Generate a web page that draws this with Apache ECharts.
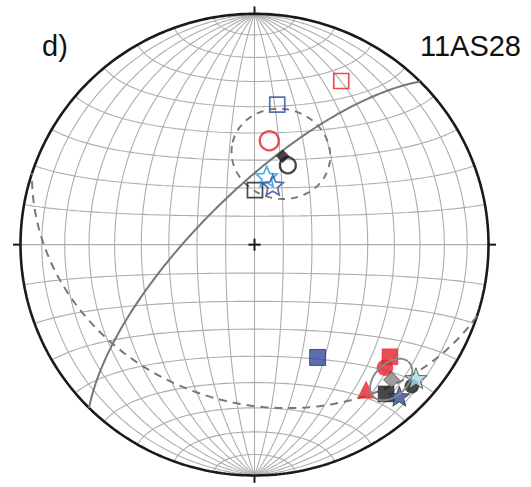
<!DOCTYPE html>
<html>
<head>
<meta charset="utf-8">
<script src="https://cdn.jsdelivr.net/npm/echarts@6/dist/echarts.min.js"></script>
<style>html,body{margin:0;padding:0;background:#fff}#chart{width:531px;height:487px}</style>
</head>
<body>
<div id="chart"></div>
<script>
// Site directions on a lower-hemisphere equal-area net (trend, plunge in degrees)
const openTrend    = [9.1, 27.6, 0.5, 8.0, 22.5, 10.0, 16.8];
const openPlunge   = [38.5, 21.1, 70.8, 52.5, 59.5, 65.5, 68.0];
const filledTrend  = [151.1, 130.0, 133.7, 142.8, 139.0, 132.4, 130.0, 136.7];
const filledPlunge = [43.5, 25.4, 23.9, 22.2, 15.4, 9.9, 10.9, 10.7];
// Mean directions
const meanTrend  = [17.5, 135.0];
const meanPlunge = [57.0, 18.3];
// Confidence cones (centre trend, plunge, half-angle)
const coneTrend  = [16.0, 135.0];
const conePlunge = [56.0, 18.3];
const coneAlpha  = [16.5, 7.0];
// Planes (dip direction, dip)
const planeDipDir = [315, 198];
const planeDip    = [71.5, 32];
// Net grid spacing (degrees)
const netStep = 10;
const panelLabel = 'd)';
const siteLabel = '11AS28';

const D2R = Math.PI / 180;
function vec(trend, plunge) {
  const t = trend * D2R, p = plunge * D2R;
  return [Math.cos(p) * Math.cos(t), Math.cos(p) * Math.sin(t), Math.sin(p)];
}
function cross(a, b) {
  return [a[1]*b[2]-a[2]*b[1], a[2]*b[0]-a[0]*b[2], a[0]*b[1]-a[1]*b[0]];
}
function norm(a) { const l = Math.hypot(a[0], a[1], a[2]); return [a[0]/l, a[1]/l, a[2]/l]; }
// Schmidt (equal-area) lower-hemisphere projection; returns [east, north] in unit-radius coords
function project(v) {
  let n = v[0], e = v[1], d = v[2];
  if (d < 0) { n = -n; e = -e; d = -d; }
  const h = Math.hypot(n, e);
  if (h < 1e-12) return [0, 0];
  const theta = Math.acos(Math.min(1, d));
  const r = Math.SQRT2 * Math.sin(theta / 2);
  return [r * e / h, r * n / h];
}
function greatCircle(dipDir, dip) {
  const s = (dipDir - 90) * D2R;
  const sv = [Math.cos(s), Math.sin(s), 0];
  const dv = vec(dipDir, dip);
  const pts = [];
  for (let a = 0; a <= 180; a += 1) {
    const c = Math.cos(a * D2R), sn = Math.sin(a * D2R);
    pts.push(project([c*sv[0]+sn*dv[0], c*sv[1]+sn*dv[1], c*sv[2]+sn*dv[2]]));
  }
  return pts;
}
function cone(trend, plunge, alpha) {
  const a = vec(trend, plunge);
  const ref = Math.abs(a[2]) < 0.9 ? [0, 0, 1] : [1, 0, 0];
  const u = norm(cross(a, ref)), w = cross(a, u);
  const ca = Math.cos(alpha * D2R), sa = Math.sin(alpha * D2R);
  const pts = [];
  for (let t = 0; t <= 360; t += 2) {
    const ct = Math.cos(t * D2R), st = Math.sin(t * D2R);
    pts.push(project([ca*a[0]+sa*(ct*u[0]+st*w[0]), ca*a[1]+sa*(ct*u[1]+st*w[1]), ca*a[2]+sa*(ct*u[2]+st*w[2])]));
  }
  return pts;
}
// Small circle about the N-S horizontal axis
function latitude(alpha) {
  const ca = Math.cos(alpha * D2R), sa = Math.sin(alpha * D2R);
  const pts = [];
  for (let t = 0; t <= 180; t += 2) {
    pts.push(project([ca, sa * Math.cos(t * D2R), sa * Math.sin(t * D2R)]));
  }
  return pts;
}
function starPath(inner) {
  let d = '';
  for (let k = 0; k < 10; k++) {
    const ang = (-90 + 36 * k) * D2R;
    const r = k % 2 === 0 ? 50 : 50 * inner;
    d += (k === 0 ? 'M' : 'L') + (50 + r * Math.cos(ang)).toFixed(2) + ',' + (50 + r * Math.sin(ang)).toFixed(2);
  }
  return 'path://' + d + 'Z';
}
const STAR_OPEN = starPath(0.46);
const STAR_FILL = starPath(0.42);

const RED = '#E8202A', BLUE = '#2F4B9C', CYAN = '#1DA0E0', INK = '#1a1a1a', GREY = '#777777';

const openStyles = [
  { symbol: 'rect', size: 15, color: BLUE, w: 1.7 },
  { symbol: 'rect', size: 15, color: RED, w: 1.7 },
  { symbol: 'rect', size: 15, color: INK, w: 1.7 },
  { symbol: 'circle', size: 19, color: RED, w: 2.3 },
  { symbol: 'circle', size: 16, color: INK, w: 2.3 },
  { symbol: STAR_OPEN, size: 21, color: CYAN, w: 1.7 },
  { symbol: STAR_OPEN, size: 21, color: BLUE, w: 1.7 }
];
const filledStyles = [
  { symbol: 'rect', size: 16, fill: BLUE, border: INK, w: 0.8 },
  { symbol: 'rect', size: 16, fill: RED, border: RED, w: 0.5 },
  { symbol: 'circle', size: 16, fill: RED, border: RED, w: 0.5 },
  { symbol: 'triangle', size: 17, fill: RED, border: RED, w: 0.5 },
  { symbol: 'rect', size: 16, fill: INK, border: INK, w: 0.5 },
  { symbol: 'circle', size: 14, fill: INK, border: INK, w: 0.5 },
  { symbol: STAR_FILL, size: 22, fill: '#A6DBEA', border: INK, w: 0.8 },
  { symbol: STAR_FILL, size: 21, fill: BLUE, border: INK, w: 0.8 }
];
const meanStyles = [
  { size: 13, fill: INK, border: INK, w: 0.5 },
  { size: 16, fill: '#858585', border: '#333', w: 0.8 }
];
const planeStyles = [
  { color: GREY, width: 2, type: 'solid' },
  { color: GREY, width: 2, type: [8, 6] }
];
const coneStyles = [
  { color: GREY, width: 1.9, type: [7, 6] },
  { color: '#888888', width: 1.9, type: 'solid' }
];

function lineSeries(pts, style, z) {
  return {
    type: 'line', data: pts, showSymbol: false, symbol: 'none', silent: true,
    animation: false, clip: false, z: z,
    lineStyle: { color: style.color, width: style.width, type: style.type || 'solid', cap: 'butt' }
  };
}

const series = [];
// Net: meridians and latitude circles
const netLine = { color: '#ADADAD', width: 1.1 };
for (let dip = netStep; dip <= 90; dip += netStep) {
  series.push(lineSeries(greatCircle(90, dip), netLine, 1));
  if (dip < 90) series.push(lineSeries(greatCircle(270, dip), netLine, 1));
}
for (let a = netStep; a < 180; a += netStep) {
  series.push(lineSeries(latitude(a), netLine, 1));
}
// Primitive circle
const prim = [];
for (let t = 0; t <= 360; t += 1) prim.push([Math.sin(t * D2R), Math.cos(t * D2R)]);
series.push(lineSeries(prim, { color: INK, width: 2.6 }, 5));
// Cardinal ticks and centre cross
const tick = 0.032, cr = 0.026;
[[[0, 1], [0, 1 + tick]], [[0, -1], [0, -1 - tick]], [[1, 0], [1 + tick, 0]], [[-1, 0], [-1 - tick, 0]],
 [[-cr, 0], [cr, 0]], [[0, -cr], [0, cr]]].forEach(seg => series.push(lineSeries(seg, { color: INK, width: 2 }, 5)));
// Planes
planeDipDir.forEach((dd, i) => series.push(lineSeries(greatCircle(dd, planeDip[i]), planeStyles[i], 6)));
// Cones
coneTrend.forEach((t, i) => series.push(lineSeries(cone(t, conePlunge[i], coneAlpha[i]), coneStyles[i], 6 + (i === 1 ? 4 : 0))));

function scatter(pt, symbol, size, itemStyle, z) {
  return {
    type: 'scatter', data: [pt], symbol: symbol, symbolSize: size, symbolKeepAspect: true,
    silent: true, animation: false, clip: false, z: z, itemStyle: itemStyle
  };
}
openTrend.forEach((t, i) => {
  const s = openStyles[i];
  series.push(scatter(project(vec(t, openPlunge[i])), s.symbol, s.size,
    { color: 'rgba(255,255,255,0)', borderColor: s.color, borderWidth: s.w }, 8));
});
filledTrend.forEach((t, i) => {
  const s = filledStyles[i];
  series.push(scatter(project(vec(t, filledPlunge[i])), s.symbol, s.size,
    { color: s.fill, borderColor: s.border, borderWidth: s.w }, 8));
});
meanTrend.forEach((t, i) => {
  const s = meanStyles[i];
  series.push(scatter(project(vec(t, meanPlunge[i])), 'diamond', s.size,
    { color: s.fill, borderColor: s.border, borderWidth: s.w }, 12));
});

const chart = echarts.init(document.getElementById('chart'), null, { renderer: 'svg' });
const half = 1.05, scale = 234, cx = 254.5, cy = 248;
chart.setOption({
  animation: false,
  backgroundColor: '#ffffff',
  grid: { left: cx - half * scale, top: cy - half * scale, width: 2 * half * scale, height: 2 * half * scale },
  xAxis: { type: 'value', min: -half, max: half, show: false },
  yAxis: { type: 'value', min: -half, max: half, show: false },
  graphic: [
    { type: 'text', x: 42, y: 46, z: 20,
      style: { text: panelLabel, font: '29px "Liberation Sans", Arial, sans-serif', fill: '#111', verticalAlign: 'middle' } },
    { type: 'text', x: 521, y: 46, z: 20,
      style: { text: siteLabel, font: '29px "Liberation Sans", Arial, sans-serif', fill: '#111', align: 'right', verticalAlign: 'middle' } }
  ],
  series: series
});
</script>
</body>
</html>
